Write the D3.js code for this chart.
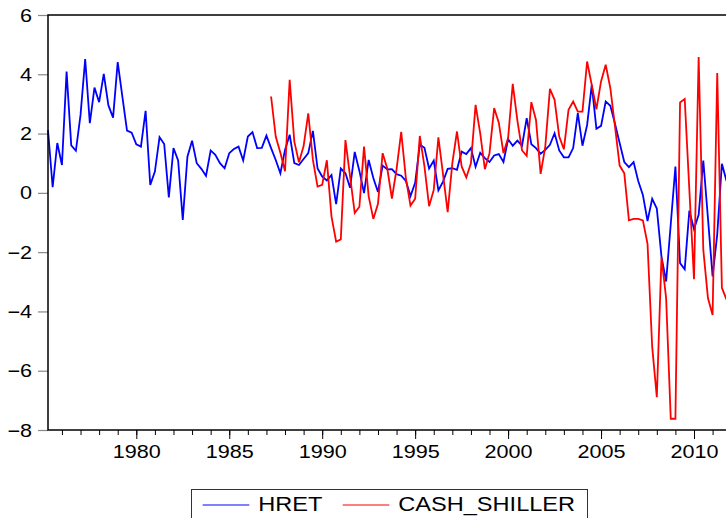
<!DOCTYPE html>
<html lang="en">
<head>
<meta charset="utf-8">
<title>HRET vs CASH_SHILLER</title>
<script src="https://d3js.org/d3.v7.min.js"></script>
<style>
  body { margin: 0; background: #fff; }
  text { font-family: "Liberation Sans", Arial, sans-serif; fill: #000; }
</style>
</head>
<body>
<div id="chart"></div>
<script>

// quarterly series, first observation 1975Q2
var startYear = 1975.25;

var hret = [
  2.12, 0.19, 1.68, 0.94, 4.09, 1.60, 1.42, 2.63, 4.51, 2.35,
  3.55, 3.06, 4.01, 2.95, 2.54, 4.41, 3.25, 2.10, 2.03, 1.64,
  1.56, 2.77, 0.27, 0.72, 1.88, 1.65, -0.15, 1.51, 1.09, -0.91,
  1.22, 1.76, 1.00, 0.81, 0.57, 1.43, 1.28, 1.00, 0.83, 1.34,
  1.48, 1.56, 1.09, 1.90, 2.05, 1.51, 1.52, 1.93, 1.51, 1.11,
  0.66, 1.45, 1.96, 1.00, 0.94, 1.14, 1.34, 2.09, 0.82, 0.55,
  0.42, 0.60, -0.38, 0.82, 0.66, 0.17, 1.38, 0.74, -0.01, 1.11,
  0.50, 0.03, 0.92, 0.79, 0.80, 0.63, 0.58, 0.40, -0.11, 0.34,
  1.63, 1.52, 0.82, 1.09, 0.08, 0.38, 0.81, 0.83, 0.78, 1.39,
  1.31, 1.51, 0.88, 1.35, 1.17, 1.04, 1.26, 1.31, 1.04, 1.81,
  1.59, 1.76, 1.59, 2.52, 1.64, 1.51, 1.32, 1.45, 1.62, 2.01,
  1.43, 1.20, 1.20, 1.51, 2.69, 1.59, 2.29, 3.64, 2.16, 2.26,
  3.08, 2.94, 2.33, 1.68, 1.04, 0.87, 1.04, 0.40, -0.07, -0.95,
  -0.20, -0.53, -2.15, -2.99, -1.05, 0.89, -2.37, -2.58, -0.60, -1.23,
  -0.74, 1.09, -0.85, -2.82, -1.40, 0.98, 0.40
];

// CASH_SHILLER begins 12 years later (1987Q2)
var cashOffset = 48;
var cashShiller = [
  3.25, 1.90, 1.35, 0.73, 3.81, 1.73, 1.03, 1.58, 2.68, 1.11,
  0.21, 0.27, 1.10, -0.80, -1.65, -1.57, 1.78, 0.55, -0.68, -0.47,
  1.56, -0.12, -0.88, -0.37, 1.34, 0.82, -0.19, 0.80, 2.06, 0.50,
  -0.43, -0.20, 1.92, 0.89, -0.45, 0.10, 1.87, 0.62, -0.65, 1.00,
  2.07, 0.89, 0.52, 1.00, 2.97, 2.01, 0.80, 1.34, 2.86, 2.37,
  1.34, 1.85, 3.68, 2.44, 1.43, 1.25, 3.06, 2.46, 0.64, 1.56,
  3.51, 3.14, 1.90, 1.47, 2.80, 3.08, 2.74, 2.74, 4.43, 3.64,
  2.82, 3.76, 4.32, 3.53, 2.24, 0.92, 0.66, -0.93, -0.88, -0.88,
  -0.93, -1.72, -5.19, -6.89, -2.17, -3.55, -7.62, -7.62, 3.05, 3.17,
  0.10, -2.91, 4.58, -1.92, -3.55, -4.12, 4.04, -3.20, -3.60
];

var yTicks = [-8, -6, -4, -2, 0, 2, 4, 6];
var xTicks = [1980, 1985, 1990, 1995, 2000, 2005, 2010];
var xMinor = d3.range(1976, 2012);
var seriesNames = ["HRET", "CASH_SHILLER"];
var seriesColors = ["#0000ff", "#ff0000"];

var W = 726, H = 518;
var margin = {top: 15, left: 48, bottom: 430};

var svg = d3.select("#chart").append("svg")
  .attr("width", W)
  .attr("height", H);

// x: 1980 -> 136.7px, 18.59px per year
var x = d3.scaleLinear()
  .domain([startYear, 2012.0])
  .range([margin.left, margin.left + (2012.0 - startYear) * 18.59]);

var y = d3.scaleLinear()
  .domain([-8, 6])
  .range([margin.bottom, margin.top]);

var plotRight = x.range()[1];

// y axis (ticks outside the frame)
var yAxis = svg.append("g")
  .attr("transform", "translate(" + margin.left + ",0)")
  .call(d3.axisLeft(y).tickValues(yTicks).tickSize(10).tickPadding(0));
yAxis.select(".domain").remove();
yAxis.selectAll("line").attr("stroke", "#888").attr("stroke-width", 1.2);
yAxis.selectAll("text")
  .attr("x", -13.3)
  .attr("dy", "0.34em")
  .attr("transform", "scale(1.2,1)")
  .style("font-size", "18px")
  .style("font-family", "'Liberation Sans', Arial, sans-serif");

// x axis minor ticks (every year)
var xMinorAxis = svg.append("g")
  .attr("transform", "translate(0," + margin.bottom + ")")
  .call(d3.axisBottom(x).tickValues(xMinor).tickSize(5).tickFormat(""));
xMinorAxis.select(".domain").remove();
xMinorAxis.selectAll("line").attr("stroke", "#000");

// x axis major ticks + labels
var xAxis = svg.append("g")
  .attr("transform", "translate(0," + margin.bottom + ")")
  .call(d3.axisBottom(x).tickValues(xTicks).tickSize(9).tickPadding(6).tickFormat(d3.format("d")));
xAxis.select(".domain").remove();
xAxis.selectAll("line").attr("stroke", "#000");
xAxis.selectAll("text")
  .attr("transform", "scale(1.2,1)")
  .style("font-size", "18px")
  .style("font-family", "'Liberation Sans', Arial, sans-serif");

// series lines
var line = d3.line()
  .x(function(d) { return x(d.t); })
  .y(function(d) { return y(d.v); });

var hretData = hret.map(function(v, i) { return {t: startYear + i / 4, v: v}; });
var cashData = cashShiller.map(function(v, i) { return {t: startYear + (i + cashOffset) / 4, v: v}; });

svg.append("path")
  .datum(hretData)
  .attr("fill", "none")
  .attr("stroke", seriesColors[0])
  .attr("stroke-width", 1.8)
  .attr("stroke-linejoin", "miter")
  .attr("d", line);

svg.append("path")
  .datum(cashData)
  .attr("fill", "none")
  .attr("stroke", seriesColors[1])
  .attr("stroke-width", 1.8)
  .attr("d", line);

// frame
svg.append("rect")
  .attr("x", margin.left)
  .attr("y", margin.top)
  .attr("width", plotRight - margin.left)
  .attr("height", margin.bottom - margin.top)
  .attr("fill", "none")
  .attr("stroke", "#000")
  .attr("stroke-width", 1.5);

// legend
var legend = svg.append("g");
legend.append("rect")
  .attr("x", 191.5)
  .attr("y", 489.5)
  .attr("width", 396)
  .attr("height", 40)
  .attr("fill", "#fff")
  .attr("stroke", "#333")
  .attr("stroke-width", 1);

var legendX = [202.7, 342.7];
seriesNames.forEach(function(name, i) {
  legend.append("line")
    .attr("x1", legendX[i])
    .attr("x2", legendX[i] + 46.6)
    .attr("y1", 505)
    .attr("y2", 505)
    .attr("stroke", seriesColors[i])
    .attr("stroke-width", 1.2);
  legend.append("text")
    .attr("transform", "translate(" + (legendX[i] + 55.6) + ",510.7) scale(1.15,1)")
    .style("font-size", "20.5px")
    .text(name);
});

</script>
</body>
</html>
